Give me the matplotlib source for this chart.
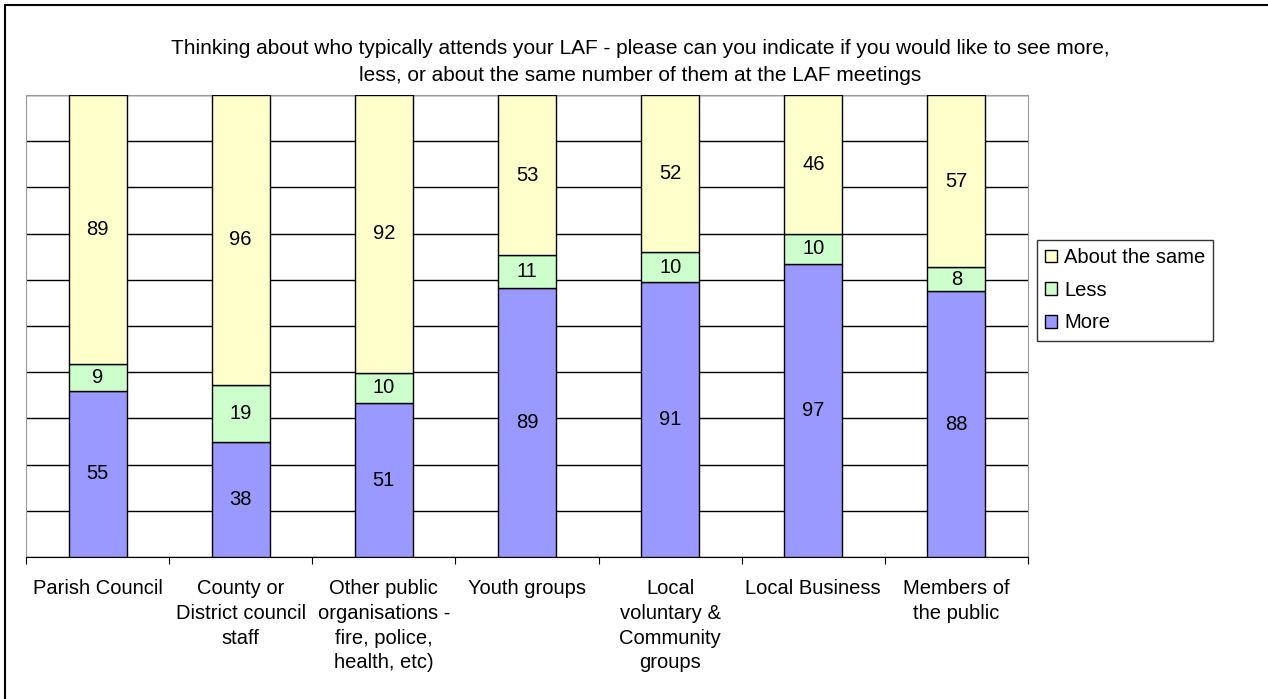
import matplotlib.pyplot as plt
import numpy as np
from matplotlib.patches import Rectangle

plt.rcParams['font.family'] = ['Liberation Sans', 'DejaVu Sans']

categories = ["Parish Council", "County or\nDistrict council\nstaff",
              "Other public\norganisations -\nfire, police,\nhealth, etc)",
              "Youth groups", "Local\nvoluntary &\nCommunity\ngroups",
              "Local Business", "Members of\nthe public"]
more = [55, 38, 51, 89, 91, 97, 88]
less = [9, 19, 10, 11, 10, 10, 8]
same = [89, 96, 92, 53, 52, 46, 57]

series = [("More", more, "#9999FF"), ("Less", less, "#CCFFCC"), ("About the same", same, "#FFFFCC")]

fig = plt.figure(figsize=(12.68, 6.99), dpi=100)
W, H = 1268, 699
ax = fig.add_axes([26 / W, 1 - 557 / H, (1028 - 26) / W, (557 - 95) / H])

# outer chart border
fig.patches.append(Rectangle((5 / W, -0.1), 1.2, 1 - 5 / H + 0.1, transform=fig.transFigure,
                             fill=False, edgecolor="black", linewidth=1.5))

x = np.arange(len(categories))
totals = np.array(more) + np.array(less) + np.array(same)
bottom = np.zeros(len(categories))
bars = {}
for name, vals, col in series:
    frac = np.array(vals) / totals
    b = ax.bar(x, frac, 0.405, bottom=bottom, color=col, edgecolor="black", linewidth=1, label=name, zorder=3)
    for xi, bi, fi, v in zip(x, bottom, frac, vals):
        ax.text(xi, bi + fi / 2, str(v), ha="center", va="center", fontsize=14.5, zorder=4)
    bottom += frac
    bars[name] = b

ax.set_xlim(-0.5, len(categories) - 0.5)
ax.set_ylim(0, 1)
ax.set_yticks(np.arange(0, 1.01, 0.1))
ax.set_yticklabels([])
ax.tick_params(axis="y", length=0)
ax.yaxis.grid(True, color="black", linewidth=1)
ax.set_axisbelow(True)

# ticks between categories, labels centred under bars
ax.set_xticks(np.arange(-0.5, len(categories), 1))
ax.set_xticklabels([])
ax.tick_params(axis="x", length=5, color="black")
ax.set_xticks(x, minor=True)
ax.set_xticklabels(categories, minor=True, fontsize=14.5, linespacing=1.38, va="top")
ax.tick_params(axis="x", which="minor", length=0, pad=16)

for s in ["top", "right", "left"]:
    ax.spines[s].set_color("#999999")
ax.spines["bottom"].set_color("black")

fig.text(0.505, 1 - 62 / H, "Thinking about who typically attends your LAF - please can you indicate if you would like to see more,\nless, or about the same number of them at the LAF meetings",
         ha="center", va="center", fontsize=15, linespacing=1.5)

handles = [bars["About the same"], bars["Less"], bars["More"]]
leg = fig.legend(handles, ["About the same", "Less", "More"], loc="upper left",
                 bbox_to_anchor=(1037 / W, 1 - 240 / H), fontsize=14.5, frameon=True, fancybox=False,
                 edgecolor="black", handlelength=0.6, handleheight=0.6, handletextpad=0.35,
                 labelspacing=0.68, borderpad=0.4, borderaxespad=0)
leg.get_frame().set_linewidth(1)

fig.savefig("out.png", dpi=100)
